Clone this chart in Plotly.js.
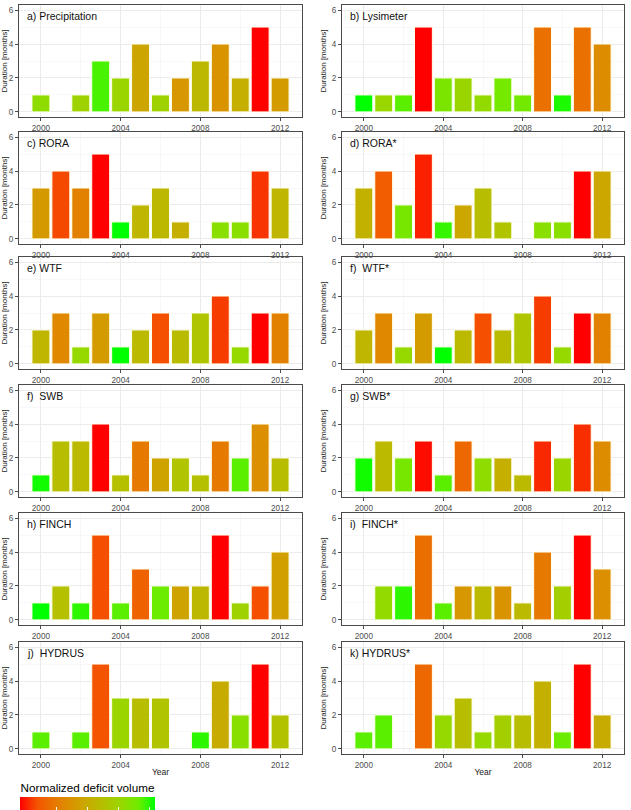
<!DOCTYPE html>
<html>
<head>
<meta charset="utf-8">
<script src="https://cdn.plot.ly/plotly-3.0.1.min.js"></script>
<style>
  html, body { margin: 0; padding: 0; background: #fff; }
  #chart { width: 631px; height: 810px; }
</style>
</head>
<body>
<div id="chart"></div>
<script>
// Drought events per year: duration in months and normalized deficit volume (0 = red end, 1 = green end)
const years = [2000, 2001, 2002, 2003, 2004, 2005, 2006, 2007, 2008, 2009, 2010, 2011, 2012];

const panelLabels = [
  'a) Precipitation', 'b) Lysimeter',
  'c) RORA', 'd) RORA*',
  'e) WTF', 'f)  WTF*',
  'f)  SWB', 'g) SWB*',
  'h) FINCH', 'i)  FINCH*',
  'j)  HYDRUS', 'k) HYDRUS*'
];

const precipDuration = [1, null, 1, 3, 2, 4, 1, 2, 3, 4, 2, 5, 2];
const precipDeficit  = [0.78, null, 0.72, 0.92, 0.74, 0.47, 0.72, 0.40, 0.57, 0.38, 0.52, 0.00, 0.42];

const lysDuration = [1, 1, 1, 5, 2, 2, 1, 2, 1, 5, 1, 5, 4];
const lysDeficit  = [1.00, 0.75, 0.90, 0.00, 0.84, 0.74, 0.77, 0.86, 0.87, 0.23, 0.97, 0.23, 0.35];

const roraDuration = [3, 4, 3, 5, 1, 2, 3, 1, null, 1, 1, 4, 3];
const roraDeficit  = [0.41, 0.11, 0.30, 0.00, 1.00, 0.56, 0.57, 0.52, null, 0.80, 0.80, 0.08, 0.56];

const roraStarDuration = [3, 4, 2, 5, 1, 2, 3, 1, null, 1, 1, 4, 4];
const roraStarDeficit  = [0.54, 0.16, 0.85, 0.05, 0.94, 0.48, 0.60, 0.64, null, 0.80, 0.80, 0.00, 0.48];

const wtfDuration = [2, 3, 1, 3, 1, 2, 3, 2, 3, 4, 1, 3, 3];
const wtfDeficit  = [0.56, 0.33, 0.76, 0.42, 1.00, 0.58, 0.12, 0.59, 0.65, 0.09, 0.76, 0.00, 0.30];

const wtfStarDuration = [2, 3, 1, 3, 1, 2, 3, 2, 3, 4, 1, 3, 3];
const wtfStarDeficit  = [0.56, 0.33, 0.76, 0.42, 1.00, 0.58, 0.12, 0.59, 0.65, 0.09, 0.76, 0.00, 0.30];

const swbDuration = [1, 3, 3, 4, 1, 3, 2, 2, 1, 3, 2, 4, 2];
const swbDeficit  = [0.98, 0.60, 0.58, 0.00, 0.62, 0.27, 0.46, 0.64, 0.62, 0.27, 0.90, 0.36, 0.60];

const swbStarDuration = [2, 3, 2, 3, 1, 3, 2, 2, 1, 3, 2, 4, 3];
const swbStarDeficit  = [0.98, 0.58, 0.85, 0.02, 0.90, 0.20, 0.78, 0.52, 0.58, 0.06, 0.74, 0.07, 0.35];

const finchDuration = [1, 2, 1, 5, 1, 3, 2, 2, 2, 5, 1, 2, 4];
const finchDeficit  = [1.00, 0.62, 0.95, 0.12, 0.90, 0.18, 0.88, 0.46, 0.57, 0.00, 0.72, 0.12, 0.44];

const finchStarDuration = [null, 2, 2, 5, 1, 2, 2, 2, 1, 4, 2, 5, 3];
const finchStarDeficit  = [null, 0.77, 0.95, 0.22, 0.90, 0.40, 0.58, 0.38, 0.58, 0.27, 0.70, 0.00, 0.36];

const hydrusDuration = [1, null, 1, 5, 3, 3, 3, null, 1, 4, 2, 5, 2];
const hydrusDeficit  = [0.90, null, 0.90, 0.13, 0.74, 0.60, 0.64, null, 0.95, 0.50, 0.80, 0.00, 0.63];

const hydrusStarDuration = [1, 2, null, 5, 2, 3, 1, 2, 2, 4, 1, 5, 2];
const hydrusStarDeficit  = [0.90, 0.90, null, 0.20, 0.76, 0.60, 0.76, 0.70, 0.60, 0.53, 0.88, 0.00, 0.50];

const durations = [precipDuration, lysDuration, roraDuration, roraStarDuration, wtfDuration, wtfStarDuration,
                   swbDuration, swbStarDuration, finchDuration, finchStarDuration, hydrusDuration, hydrusStarDuration];
const deficits  = [precipDeficit, lysDeficit, roraDeficit, roraStarDeficit, wtfDeficit, wtfStarDeficit,
                   swbDeficit, swbStarDeficit, finchDeficit, finchStarDeficit, hydrusDeficit, hydrusStarDeficit];

// red -> green gradient interpolated in Lab space
const deficitScale = [
  [0.000, '#FF0000'], [0.125, '#F45300'], [0.250, '#E87600'], [0.375, '#DA9200'],
  [0.500, '#C8AB00'], [0.625, '#B3C100'], [0.750, '#98D700'], [0.875, '#70EB00'],
  [1.000, '#00FF00']
];

const W = 631, H = 810;
const colPx = [[19, 302], [342, 624]];
const rowTopPx = [5, 132, 257, 385, 513, 642];
const panelH = 112;
const FONT = 'Liberation Sans, Arial, sans-serif';

const traces = [];
const layout = {
  width: W, height: H,
  margin: { l: 0, r: 0, t: 0, b: 0, autoexpand: false },
  paper_bgcolor: '#fff', plot_bgcolor: '#fff',
  showlegend: false,
  font: { family: FONT, color: '#000' },
  annotations: [],
  coloraxis: {
    cmin: 0, cmax: 1,
    colorscale: deficitScale,
    colorbar: {
      orientation: 'h',
      x: 20 / W, xanchor: 'left', xpad: 0,
      y: 1 - 784 / H, yanchor: 'top', ypad: 0,
      len: 135, lenmode: 'pixels',
      thickness: 13, thicknessmode: 'pixels',
      outlinewidth: 0,
      ticks: 'inside', ticklen: 3, tickwidth: 1, tickcolor: '#ffffff',
      ticklabelposition: 'inside top',
      showticklabels: false,
      tickmode: 'array', tickvals: [0.27, 0.5, 0.73, 0.96],
      title: { text: 'Normalized deficit volume', side: 'top', font: { family: FONT, size: 11.7, color: '#000' } }
    }
  }
};

for (let i = 0; i < 12; i++) {
  const r = Math.floor(i / 2), c = i % 2;
  const sfx = i === 0 ? '' : String(i + 1);
  const xName = 'x' + sfx, yName = 'y' + sfx;

  traces.push({
    type: 'bar',
    x: years,
    y: durations[i],
    width: 0.9,
    xaxis: xName, yaxis: yName,
    marker: {
      color: deficits[i],
      coloraxis: 'coloraxis',
      line: { color: 'rgba(255,255,235,1)', width: 1 }
    },
    hovertemplate: '%{x}: %{y} months<extra></extra>'
  });

  const gridCommon = {
    showline: true, mirror: true, linecolor: '#4a4a4a', linewidth: 1,
    zeroline: false, fixedrange: true,
    showgrid: true, gridcolor: '#ebebeb', gridwidth: 1,
    ticks: 'outside', ticklen: 3, tickwidth: 1, tickcolor: '#4a4a4a',
    tickfont: { family: FONT, size: 8.2, color: '#4d4d4d' }
  };

  layout['xaxis' + sfx] = Object.assign({}, gridCommon, {
    domain: [colPx[c][0] / W, colPx[c][1] / W],
    anchor: yName,
    range: [1998.9, 2013.1],
    tickmode: 'linear', tick0: 2000, dtick: 4,
    minor: { tickmode: 'linear', tick0: 2000, dtick: 2, showgrid: true, gridcolor: '#f3f3f3', gridwidth: 0.6, ticks: '' },
    title: r === 5 ? { text: 'Year', standoff: 0, font: { family: FONT, size: 8.5, color: '#1a1a1a' } } : { text: '' }
  });

  layout['yaxis' + sfx] = Object.assign({}, gridCommon, {
    domain: [1 - (rowTopPx[r] + panelH) / H, 1 - rowTopPx[r] / H],
    anchor: xName,
    range: [-0.3, 6.3],
    tickmode: 'linear', tick0: 0, dtick: 2,
    minor: { tickmode: 'linear', tick0: 0, dtick: 1, showgrid: true, gridcolor: '#f3f3f3', gridwidth: 0.6, ticks: '' },
    title: { text: 'Duration [months]', standoff: 3, font: { family: FONT, size: 8, color: '#1a1a1a' } }
  });

  layout.annotations.push({
    xref: xName + ' domain', yref: yName + ' domain',
    x: 0.02, y: 0.905, xanchor: 'left', yanchor: 'middle',
    showarrow: false,
    text: panelLabels[i],
    font: { family: FONT, size: 10.5, color: '#111' }
  });
}

Plotly.newPlot('chart', traces, layout, { staticPlot: true, displayModeBar: false });
</script>
</body>
</html>
